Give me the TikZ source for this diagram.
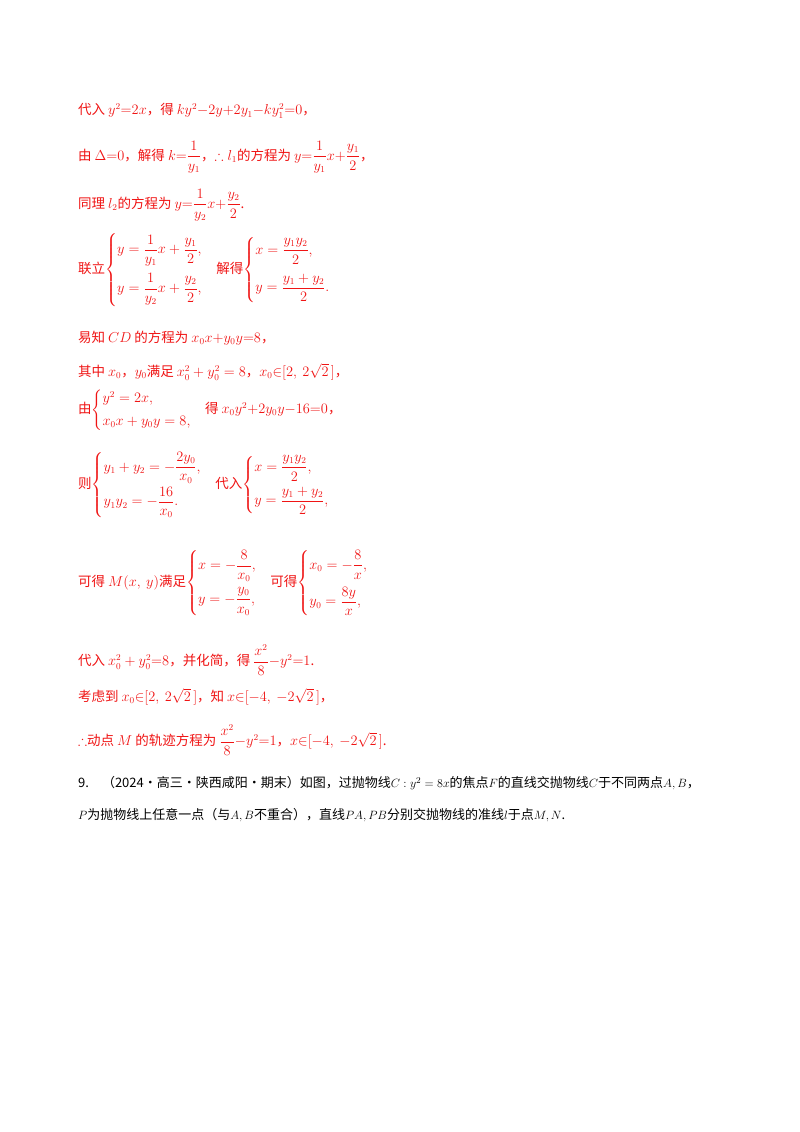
\documentclass[tikz,border=0pt]{standalone}
\usepackage{amsmath,amssymb}
\usepackage{fontspec}
\newfontfamily\cjk{Noto Sans CJK SC}
\definecolor{rd}{RGB}{240,20,20}
\begin{document}
\begin{tikzpicture}[x=1pt,y=-1pt,
  ln/.style={anchor=west,inner sep=0pt,text=rd,font=\cjk\fontsize{13.5}{16}\selectfont},
  bk/.style={ln,text=black,font=\cjk\fontsize{13}{16}\selectfont}]
\useasboundingbox[fill=white] (0,0) rectangle (800,1132);
\node[ln] (l1) at (78,111) {代入 $y^2{=}2x$，得 $ky^2{-}2y{+}2y_1{-}ky_1^2{=}0$，};
\node[ln] (l2) at (78,157) {由 $\Delta{=}0$，解得 $k{=}\dfrac{1}{y_1}$，$\therefore l_1$的方程为 $y{=}\dfrac{1}{y_1}x{+}\dfrac{y_1}{2}$，};
\node[ln] (l3) at (78,205) {同理 $l_2$的方程为 $y{=}\dfrac{1}{y_2}x{+}\dfrac{y_2}{2}$.};
\node[ln] (l4) at (78,270) {联立$\begin{cases} y=\dfrac{1}{y_1}x+\dfrac{y_1}{2},\\[14pt] y=\dfrac{1}{y_2}x+\dfrac{y_2}{2},\end{cases}$解得$\begin{cases} x=\dfrac{y_1y_2}{2},\\[14pt] y=\dfrac{y_1+y_2}{2}.\end{cases}$};
\node[ln] (l5) at (78,338) {易知 $CD$ 的方程为 $x_0x{+}y_0y{=}8$，};
\node[ln] (l6) at (78,372) {其中 $x_0$，$y_0$满足 $x_0^2+y_0^2=8$，$x_0{\in}[2,\ 2\sqrt{2}\,]$，};
\node[ln] (l7) at (78,410) {由$\begin{cases} y^2=2x,\\[4pt] x_0x+y_0y=8,\end{cases}$得 $x_0y^2{+}2y_0y{-}16{=}0$，};
\node[ln] (l8) at (78,485) {则$\begin{cases} y_1+y_2=-\dfrac{2y_0}{x_0},\\[10pt] y_1y_2=-\dfrac{16}{x_0}.\end{cases}$代入$\begin{cases} x=\dfrac{y_1y_2}{2},\\[10pt] y=\dfrac{y_1+y_2}{2},\end{cases}$};
\node[ln] (l9) at (78,583) {可得 $M(x,\ y)$满足$\begin{cases} x=-\dfrac{8}{x_0},\\[12pt] y=-\dfrac{y_0}{x_0},\end{cases}$可得$\begin{cases} x_0=-\dfrac{8}{x},\\[12pt] y_0=\dfrac{8y}{x},\end{cases}$};
\node[ln] (l10) at (78,660) {代入 $x_0^2+y_0^2{=}8$，并化简，得 $\dfrac{x^2}{8}{-}y^2{=}1$.};
\node[ln] (l11) at (78,697) {考虑到 $x_0{\in}[2,\ 2\sqrt{2}\,]$，知 $x{\in}[-4,\ -2\sqrt{2}\,]$，};
\node[ln] (l12) at (78,740) {$\therefore$动点 $M$ 的轨迹方程为 $\dfrac{x^2}{8}{-}y^2{=}1$，$x{\in}[-4,\ -2\sqrt{2}\,]$.};
\node[bk] (l13) at (78,783) {9.\quad（2024·高三·陕西咸阳·期末）如图，过抛物线$C:y^2=8x$的焦点$F$的直线交抛物线$C$于不同两点$A,B$，};
\node[bk] (l14) at (78,815) {$P$为抛物线上任意一点（与$A,B$不重合），直线$PA,PB$分别交抛物线的准线$l$于点$M,N$.};
\end{tikzpicture}
\end{document}
